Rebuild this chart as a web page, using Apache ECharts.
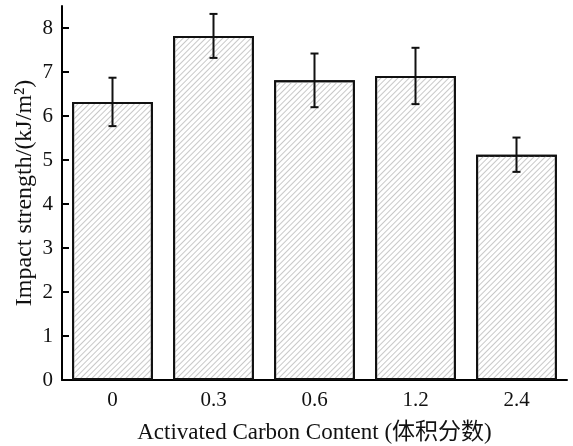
<!DOCTYPE html>
<html>
<head>
<meta charset="utf-8">
<script src="https://cdn.jsdelivr.net/npm/echarts@6/dist/echarts.min.js"></script>
<style>
  html, body { margin: 0; padding: 0; background: #fff; }
  #chart { width: 573px; height: 446px; }
</style>
</head>
<body>
<div id="chart"></div>
<script>
const categories = ['0', '0.3', '0.6', '1.2', '2.4']
const strength = [6.32, 7.82, 6.81, 6.91, 5.12]
const errors = [0.55, 0.5, 0.61, 0.64, 0.39]

const serif = '"Liberation Serif", "Times New Roman", serif'

const chart = echarts.init(document.getElementById('chart'))

const errorData = strength.map((v, i) => [i, v - errors[i], v + errors[i]])

const option = {
  backgroundColor: '#ffffff',
  animation: false,
  grid: {
    left: 62,
    right: 6,
    top: 6,
    bottom: 66,
    outerBoundsMode: 'none',
    containLabel: false,
  },
  xAxis: {
    type: 'category',
    data: categories,
    name: 'Activated Carbon Content (体积分数)',
    nameLocation: 'middle',
    nameGap: 41,
    nameMoveOverlap: false,
    nameTextStyle: {
      fontFamily: serif + ', "Noto Sans CJK SC"',
      fontSize: 23,
      color: '#111',
    },
    axisLine: { lineStyle: { color: '#000', width: 2 } },
    axisTick: {
      inside: true,
      alignWithLabel: true,
      length: 5,
      lineStyle: { color: '#000', width: 2 },
    },
    axisLabel: {
      fontFamily: serif,
      fontSize: 21,
      color: '#111',
      margin: 10,
    },
  },
  yAxis: {
    type: 'value',
    min: 0,
    max: 8.5,
    interval: 1,
    name: 'Impact strength/(kJ/m²)',
    nameLocation: 'middle',
    nameGap: 25,
    nameMoveOverlap: false,
    nameTextStyle: {
      fontFamily: serif,
      fontSize: 24,
      color: '#111',
    },
    axisLine: { show: true, lineStyle: { color: '#000', width: 2 } },
    axisTick: {
      show: true,
      inside: true,
      length: 7,
      lineStyle: { color: '#000', width: 2 },
    },
    splitLine: { show: false },
    axisLabel: {
      fontFamily: serif,
      fontSize: 21,
      color: '#111',
      margin: 9,
      showMaxLabel: false,
    },
  },
  series: [
    {
      type: 'bar',
      data: strength,
      barWidth: '80%',
      itemStyle: {
        color: '#ffffff',
        borderColor: '#111',
        borderWidth: 2,
        decal: {
          symbol: 'rect',
          symbolSize: 1,
          color: '#c8c8c8',
          dashArrayX: [1, 0],
          dashArrayY: [1, 3],
          rotation: -Math.PI / 4,
        },
      },
    },
    {
      type: 'custom',
      data: errorData,
      z: 10,
      renderItem: (params, api) => {
        const x = api.value(0)
        const lo = api.coord([x, api.value(1)])
        const hi = api.coord([x, api.value(2)])
        const cap = 4
        const style = { stroke: '#111', lineWidth: 2 }
        return {
          type: 'group',
          children: [
            { type: 'line', shape: { x1: hi[0], y1: hi[1], x2: lo[0], y2: lo[1] }, style },
            { type: 'line', shape: { x1: hi[0] - cap, y1: hi[1], x2: hi[0] + cap, y2: hi[1] }, style },
            { type: 'line', shape: { x1: lo[0] - cap, y1: lo[1], x2: lo[0] + cap, y2: lo[1] }, style },
          ],
        }
      },
    },
  ],
}

chart.setOption(option)
</script>
</body>
</html>
